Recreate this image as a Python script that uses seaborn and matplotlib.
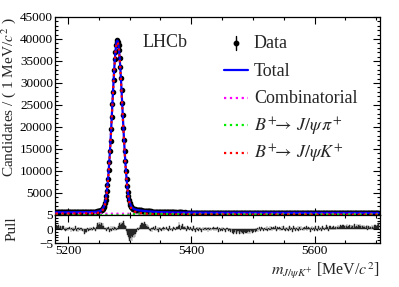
import numpy as np
import pandas as pd
import matplotlib
matplotlib.use('Agg')
import matplotlib.pyplot as plt
import seaborn as sns
from matplotlib.ticker import MultipleLocator, FixedLocator

# --- data: 1 MeV bins from 5180 to 5704 ---
mass = np.arange(5180, 5705)

counts = [
    612, 598, 625, 604, 590, 617, 633, 601, 609, 587, 622, 615, 596, 608, 630, 611, 593, 619, 605, 624,
    610, 598, 627, 615, 603, 592, 618, 629, 607, 614, 601, 623, 612, 596, 620, 632, 609, 615, 627, 604,
    618, 641, 628, 635, 622, 644, 631, 650, 642, 656, 648, 661, 652, 667, 658, 672, 664, 681, 670, 686,
    672, 695, 690, 713, 705, 738, 760, 815, 838, 862, 890, 921, 970, 1040, 1125, 1240, 1395, 1580, 1835, 2140,
    2630, 3310, 4230, 5390,
    6810, 8240, 10150, 12060, 14430, 16790, 19600, 22250, 25230, 27880, 30720, 33050, 35420, 37080, 38560, 39250,
    39680,
    39270, 38600, 37480, 35700, 33550, 31020, 28330, 25500, 22620, 19800, 17100, 14560, 12250, 10010, 8100, 6480,
    5200, 4250, 3420, 2800, 2330, 1990, 1760, 1590, 1460, 1370, 1300, 1250, 1210, 1185, 1160, 1150, 1105, 1090, 1070, 1030,
    1035, 1060, 1035, 1010, 1000, 985, 960, 950, 935, 915, 900, 880, 860, 845, 815, 820, 790, 795, 765, 755,
    752, 738, 726, 722,
    705, 722, 690, 701, 678, 694, 660, 672, 650, 668, 640, 652, 628, 645, 619, 633, 608, 625, 598, 612,
    590, 607, 583, 599, 578, 592, 571, 586, 566, 580, 562, 575, 558, 570, 552, 568, 556, 549, 570, 612,
    605, 590, 563, 548, 575, 540, 556, 528, 549, 562, 537, 551, 530, 546, 558, 533, 548, 527, 541, 550,
    529, 541, 520, 536, 547, 524, 538, 518, 533, 542, 526, 537, 515, 531, 540, 522, 535, 517, 529, 538,
    521, 533, 514, 528, 536, 519, 530, 511, 526, 534, 517, 528, 512, 524, 531, 515, 526, 509, 521, 529,
    514, 522, 506, 519, 527, 510, 520, 503, 516, 524, 507, 518, 502, 513, 521, 505, 515, 500, 511, 519,
    506, 514, 499, 510, 517, 502, 488, 495, 481, 490, 478, 492, 476, 487, 480, 471, 489, 474, 483, 477,
    470, 486, 473, 480, 468, 484, 472, 479, 465, 481, 470, 476, 463, 480, 467, 474, 461, 478, 469, 472,
    464, 479, 468, 473, 462, 483, 471, 492, 478, 500, 485, 497, 480, 494, 487, 501, 483, 496, 479, 492,
    497, 481, 493, 503, 486, 495, 480, 498, 489, 476, 494, 486, 499, 483, 491, 502, 485, 493, 479, 496,
    488, 497, 482, 493, 501, 484, 490, 478, 495, 487, 499, 482, 491, 505, 486, 494, 480, 497, 489, 483,
    492, 478, 486, 497, 475, 488, 481, 469, 490, 477, 485, 496, 472, 483, 479, 491, 468, 486, 476, 482,
    474, 488, 466, 479, 485, 470, 478, 463, 482, 473, 469, 484, 476, 465, 481, 472, 488, 467, 478, 474,
    470, 482, 465, 476, 486, 468, 474, 462, 480, 471, 466, 483, 473, 477, 469, 487, 464, 475, 481, 470,
    476, 465, 482, 471, 468, 485, 474, 466, 479, 487, 470, 477, 483, 468, 486, 474, 480, 489, 472, 484,
    478, 491, 475, 486, 481, 494, 477, 489, 483, 476, 492, 485, 497, 480, 488, 495, 479, 490, 486, 498,
    484, 493, 479, 496, 488, 482, 499, 487, 491, 478, 495, 486, 500, 483, 489, 496, 481, 492, 488, 485,
    472, 481, 466, 477, 485, 470, 479, 463, 482, 474, 468, 486, 476, 471, 489, 478, 484, 473, 491, 487,
    495, 482, 490, 512,
]

pull = [
    0.8, 1.3, 0.2, 1.1, 0.6, 1.5, 0.3, 0.9, 1.2, -0.2, 0.7, 1.0, 0.4, 0.9, -0.5, 0.3, -0.8, 0.6, -0.3, 0.5,
    -0.6, 0.2, 0.8, -0.4, 0.1, -0.9, 0.5, -0.2, 0.7, -0.7, 0.3, -0.5, 0.9, -0.1, -0.6, 0.4, -1.0, 0.2, 0.6, -0.4,
    0.3, -0.7, 0.5, -0.2, -0.8, 0.1, -1.2, -1.6, -0.9, -1.4, -1.1, -0.5, 0.2, -0.6, 0.4, -0.3, 0.7, -0.2, 0.5, -0.8,
    -0.3, 0.6, -0.5, 0.2, 0.4, -0.6, 0.8, 1.6, 2.1, 1.3, 2.4, 1.8, 2.6, 1.5, 2.2, 1.9, 1.2, 2.3, 1.1, 0.4,
    -0.5, 0.3, -0.8, 0.6, 0.2, -0.4, 0.7, -0.9, 0.5, -0.2, 0.9, -0.6, 0.3, 1.0, -0.3, 0.6, -0.7, 0.4, 0.8, -0.2,
    0.5, -0.3, 0.9, 1.7, 2.2, 1.4, 2.6, 1.9, 2.3, 1.6, 2.8, 2.1, 1.5, 1.2, 0.9, -0.6, -1.4, -2.2, -2.9, -3.4,
    -4.2, -3.1, -3.8, -2.6, -4.4, -3.0, -2.3, -3.3, -1.9, -2.7, -1.6, -1.2, -0.4, 0.3, -0.5, 0.6, 0.2, 0.9, 1.4, 2.0,
    1.6, 2.3, 1.2, 1.8, 2.4, 1.3, 1.9, 1.1, 1.7, 0.8, 1.4, 0.6, -0.3, 0.5, -0.6, 0.2, -0.9, 0.4, -0.2, 0.7,
    -0.5, 0.3, 0.9, -0.7, 0.1, -0.4, 0.6, -1.0, 0.2, 0.8, -0.3, 0.5, -0.6, 0.4, -0.2, 0.7, -0.8, 0.3, 0.1, -0.5,
    0.6, -0.3, 0.4, -0.7, 0.2, 0.9, -0.4, 0.5, -0.1, 0.3, -0.6, 0.8, -0.2, 0.4, -0.5, 0.1, 0.7, -0.3, 0.6, 1.2,
    2.6, 1.4, 0.5, -0.2, 1.1, 0.3, 1.8, 0.8, -0.4, 0.6, 1.0, 0.2, -0.6, 0.4, 0.9, -0.3, 0.7, -0.5, 0.3, 0.6,
    -0.4, 0.5, -0.8, 0.2, 0.9, -0.5, 0.4, -1.0, 0.3, 0.8, -0.3, 0.6, -0.7, 0.2, 0.7, -0.4, 0.5, -0.9, 0.1, 0.6,
    -0.2, 0.5, -0.6, 0.3, 0.8, -0.4, 0.4, -0.9, 0.2, 0.6, -0.5, 0.3, -0.8, 0.1, 0.5, -0.3, 0.7, -0.6, 0.2, 0.4,
    -0.7, 0.3, -0.4, 0.6, -0.9, 0.1, 0.5, -0.6, 0.3, -0.2, 0.6, -0.8, 0.2, 0.4, -0.5, 0.1, -0.9, 0.3, -0.4, 0.5,
    -0.6, 0.2, -0.3, 0.4, -1.0, 0.1, -0.7, -1.3, -0.5, -1.6, -0.9, -1.4, -0.3, -1.8, -1.1, -0.6, -1.5, -0.8, -1.9, -1.2,
    -0.7, -1.6, -1.0, -1.4, -0.5, -1.7, -1.1, -0.8, -1.5, -0.4, -1.3, -0.9, -1.8, -0.6, -1.2, -1.6, -0.3, -1.1, -0.7, -1.4,
    -0.5, -1.2, -0.8, -0.3, -1.0, 0.2, -0.6, 0.4, -0.9, 0.1, -0.4, 0.6, -0.7, 0.3, 0.8, -0.2, 0.5, -0.6, 0.2, 0.4,
    -0.5, 0.7, -0.3, 0.9, -0.8, 0.2, 0.5, -0.4, 1.0, -0.2, 0.6, -0.7, 0.3, 0.8, -0.5, 0.4, -0.1, 0.9, -0.6, 0.3,
    0.6, -0.4, 0.2, 0.8, -0.7, 0.4, -0.2, 0.9, -0.5, 0.3, 1.1, -0.3, 0.5, -0.8, 0.7, 0.2, -0.4, 0.6, -0.6, 0.9,
    0.1, -0.5, 0.7, 0.3, -0.9, 0.5, 1.2, -0.2, 0.4, -0.6, 0.8, 0.2, -0.3, 1.0, -0.7, 0.4, 0.6, -0.4, 0.9, 0.1,
    -0.5, 0.6, 0.2, -0.8, 0.7, 0.3, -0.3, 1.1, -0.6, 0.4, 0.8, -0.2, 0.5, -0.9, 0.6, 0.2, 1.0, -0.4, 0.3, 0.7,
    -0.6, 0.5, 0.9, -0.3, 0.4, -0.7, 1.2, 0.1, -0.4, 0.6, 0.3, -0.8, 0.7, 1.1, -0.2, 0.5, -0.5, 0.8, 0.2, 1.3,
    -0.3, 0.6, 0.4, -0.6, 0.9, 0.2, 1.0, -0.4, 0.5, 0.8, -0.2, 1.2, 0.3, -0.5, 0.7, 1.1, 0.1, 0.6, 1.4, 0.4,
    1.2, 0.7, 1.5, 0.3, 1.0, 1.3, 0.5, 1.6, 0.8, 1.1, 0.2, 1.4, 0.9, 1.7, 0.6, 1.2, 1.0, 1.5, 0.4, 1.3,
    0.8, 1.6, 1.1, 0.5, 1.4, 1.9, 0.7, 1.2, 1.0, 1.7, 0.6, 1.3, 1.5, 0.9, 1.8, 1.1, 0.4, 1.4, 1.2, 0.8,
    1.5, 0.6, 1.1, 0.3, 0.9, 1.3, -0.2, 0.7, 1.0, 0.4, 1.2, 0.8, -0.1, 1.4, 0.6, 1.0, 0.5, 1.3, 0.9, 1.6,
    0.7, 1.2, 1.5, 1.8, 2.3,
]

# --- fit curves, sampled at knots ---
fit_mass = [5180, 5190, 5200, 5210, 5220, 5230, 5235, 5240, 5244, 5248, 5251, 5254, 5256, 5258,
            5260, 5261, 5262, 5263, 5264, 5265, 5266, 5267, 5268, 5269, 5270, 5271, 5272, 5273, 5274,
            5275, 5276, 5277, 5278, 5279, 5280, 5281, 5282, 5283, 5284, 5285, 5286, 5287, 5288, 5289,
            5290, 5291, 5292, 5293, 5294, 5295, 5296, 5297, 5298, 5299, 5300, 5302, 5304, 5306, 5308,
            5310, 5313, 5316, 5320, 5325, 5330, 5340, 5350, 5360, 5380, 5400, 5430, 5480, 5530, 5580,
            5630, 5704]
fit_total = [605, 610, 615, 622, 630, 648, 660, 680, 716, 780, 870, 1070, 1340, 1800,
             2650, 3350, 4250, 5350, 6770, 8300, 10080, 12110, 14380, 16860, 19520, 22310, 25150, 27960, 30650,
             33140, 35340, 37140, 38490, 39320, 39600, 39320, 38490, 37140, 35340, 33140, 30650, 27960, 25150, 22310,
             19520, 16860, 14380, 12110, 10080, 8300, 6770, 5450, 4450, 3600, 2950, 2100, 1660, 1430, 1290,
             1200, 1110, 1040, 960, 890, 820, 720, 650, 600, 555, 535, 520, 500, 490, 472,
             462, 450]
fit_comb = [300, 299, 298, 297, 297, 296, 295, 295, 294, 294, 294, 294, 293, 293,
            293, 293, 293, 293, 293, 293, 292, 292, 292, 292, 292, 292, 292, 292, 292,
            291, 291, 291, 291, 291, 291, 291, 291, 291, 290, 290, 290, 290, 290, 290,
            290, 290, 290, 290, 290, 290, 290, 290, 289, 289, 289, 289, 289, 289, 289,
            289, 289, 289, 288, 288, 287, 286, 285, 285, 283, 281, 278, 274, 270, 266,
            261, 255]
fit_pi = [0, 0, 0, 0, 0, 0, 0, 0, 0, 0, 0, 0, 0, 0,
          0, 0, 0, 0, 0, 0, 0, 0, 0, 0, 0, 0, 0, 0, 0,
          0, 0, 0, 0, 0, 0, 0, 0, 0, 0, 0, 0, 0, 0, 0,
          0, 5, 10, 15, 22, 30, 40, 52, 65, 78, 92, 120, 150, 180, 210,
          235, 265, 285, 295, 300, 295, 270, 240, 215, 180, 165, 155, 145, 145, 140,
          140, 140]

legend_labels = ['Data', 'Total', 'Combinatorial',
                 r'$B^{+}\!\!\rightarrow\, J/\psi\,\pi^{+}$', r'$B^{+}\!\!\rightarrow\, J/\psi K^{+}$']

fit = pd.DataFrame({'mass': fit_mass, 'total': fit_total, 'comb': fit_comb, 'pi': fit_pi})
fit['sig'] = fit['total'] - fit['comb'] - fit['pi']

# --- style ---
sns.set_theme(style='ticks')
plt.rcParams['font.family'] = ['Liberation Serif', 'DejaVu Serif']
plt.rcParams['mathtext.fontset'] = 'stix'

fig = plt.figure(figsize=(3.99, 2.87), dpi=100)
ax = fig.add_axes([0.138, 0.251, 0.814, 0.690])
axp = fig.add_axes([0.138, 0.153, 0.814, 0.098], sharex=ax)

ax.errorbar(mass, counts, yerr=np.sqrt(counts), fmt='o', color='black', ms=3.0,
            elinewidth=0.9, capsize=0, zorder=2)
sns.lineplot(data=fit, x='mass', y='total', ax=ax, color='#0000ff', lw=1.6, zorder=3)
sns.lineplot(data=fit, x='mass', y='comb', ax=ax, color='#ff00ff', lw=1.5, ls=':', zorder=4)
sns.lineplot(data=fit, x='mass', y='pi', ax=ax, color='#00ee00', lw=1.5, ls=':', zorder=4)
sns.lineplot(data=fit, x='mass', y='sig', ax=ax, color='#ff0000', lw=1.6, ls=':', zorder=5)

# legend drawn by hand, ROOT-style fixed row spacing
row_y = [0.869, 0.730, 0.592, 0.452, 0.313]
styles = [None, ('#0000ff', '-'), ('#ff00ff', ':'), ('#00ee00', ':'), ('#ff0000', ':')]
for y, lab, st in zip(row_y, legend_labels, styles):
    if st is None:
        ax.plot([0.557], [y], 'o', color='black', ms=3.2, transform=ax.transAxes, clip_on=False)
        ax.plot([0.557, 0.557], [y - 0.035, y + 0.035], color='black', lw=1.0,
                transform=ax.transAxes, clip_on=False)
    else:
        ax.plot([0.520, 0.594], [y, y], color=st[0], ls=st[1], lw=1.6,
                transform=ax.transAxes, clip_on=False)
    ax.text(0.612, y - 0.028, lab, transform=ax.transAxes, fontsize=13,
            ha='left', va='baseline')

ax.text(0.27, 0.87, 'LHCb', transform=ax.transAxes, fontsize=13, ha='left', va='center')

ax.set_xlim(5179, 5706)
ax.set_ylim(0, 45000)
ax.yaxis.set_major_locator(FixedLocator(range(5000, 45001, 5000)))
ax.yaxis.set_minor_locator(MultipleLocator(1000))
ax.xaxis.set_major_locator(MultipleLocator(200))
ax.xaxis.set_minor_locator(MultipleLocator(50))
ax.tick_params(axis='x', labelbottom=False)
ax.set_xlabel('')
ax.set_ylabel('Candidates / ( 1 MeV/$c^{2}$ )', loc='top', fontsize=11, labelpad=1)

axp.bar(mass, pull, width=1.0, color='#262626', edgecolor='#262626', linewidth=0.3)
axp.set_ylim(-5, 5)
axp.yaxis.set_major_locator(FixedLocator([-5, 0, 5]))
axp.yaxis.set_minor_locator(MultipleLocator(1))
axp.set_ylabel('Pull', fontsize=11)
axp.yaxis.set_label_coords(-0.112, 0.5)
axp.set_xlabel(r'$m_{J/\psi K^{+}}$ [MeV/$c^{2}$]', loc='right', fontsize=11.5, labelpad=2)

for a in (ax, axp):
    a.tick_params(which='both', direction='in', top=True, right=True, labelsize=9.5,
                  pad=1.5, width=0.8, colors='black')
    a.tick_params(which='major', length=5)
    a.tick_params(which='minor', length=2.5)
    for s in a.spines.values():
        s.set_linewidth(0.9)
        s.set_color('black')

fig.savefig('out.png', dpi=100)
